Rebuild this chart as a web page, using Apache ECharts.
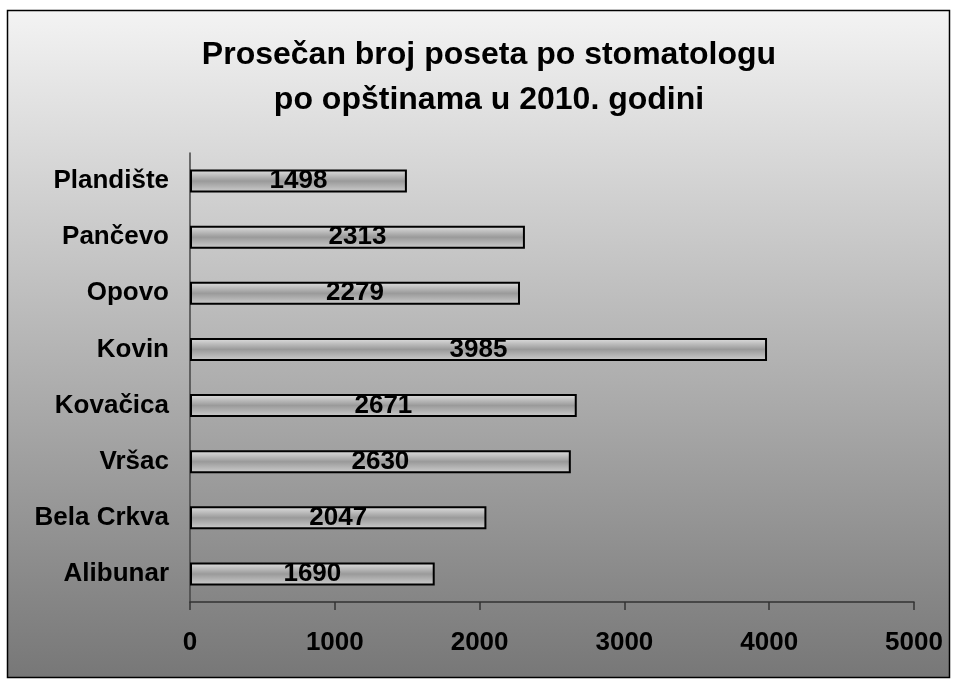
<!DOCTYPE html>
<html><head><meta charset="utf-8">
<script src="https://cdn.jsdelivr.net/npm/echarts@6/dist/echarts.min.js"></script>
<style>html,body{margin:0;padding:0;background:#fff}#c{width:957px;height:679px}</style>
</head><body><div id="c"></div>
<script>
const categories = ['Alibunar','Bela Crkva','Vršac','Kovačica','Kovin','Opovo','Pančevo','Plandište'];
const values = [1690, 2047, 2630, 2671, 3985, 2279, 2313, 1498];
const xTicks = [0, 1000, 2000, 3000, 4000, 5000];
const titleText = 'Prosečan broj poseta po stomatologu\npo opštinama u 2010. godini';

const chart = echarts.init(document.getElementById('c'));
const F = 'Liberation Sans, Arial, sans-serif';
chart.setOption({
  animation: false,
  graphic: [{
    type: 'rect', z: -10, silent: true,
    shape: { x: 7.5, y: 10.5, width: 942, height: 667 },
    style: {
      fill: new echarts.graphic.LinearGradient(0, 0, 0, 1, [
        { offset: 0, color: '#f3f3f3' },
        { offset: 1, color: '#777777' }
      ]),
      stroke: '#000', lineWidth: 1.5
    }
  }],
  title: {
    text: titleText, left: 484, top: 28, textAlign: 'center',
    textStyle: { fontFamily: F, fontSize: 32, fontWeight: 'bold', color: '#000', lineHeight: 45 }
  },
  grid: { left: 190, right: 43, top: 153, bottom: 77, containLabel: false },
  xAxis: {
    type: 'value', min: xTicks[0], max: xTicks[xTicks.length - 1], interval: 1000,
    axisLine: { show: true, lineStyle: { color: '#333', width: 1.5 } },
    axisTick: { show: true, inside: false, length: 8, lineStyle: { color: '#333', width: 1.5 } },
    splitLine: { show: false },
    axisLabel: { fontFamily: F, fontSize: 26, fontWeight: 'bold', color: '#000', margin: 28,
      formatter: v => String(v) }
  },
  yAxis: {
    type: 'category', data: categories,
    axisLine: { show: true, lineStyle: { color: '#444', width: 1.5 } },
    axisTick: { show: false },
    axisLabel: { fontFamily: F, fontSize: 26, fontWeight: 'bold', color: '#000', margin: 21 }
  },
  series: [{
    type: 'bar', data: values, barWidth: 23,
    itemStyle: {
      color: new echarts.graphic.LinearGradient(0, 0, 0, 1, [
        { offset: 0, color: '#e2e2e2' },
        { offset: 0.5, color: '#9a9a9a' },
        { offset: 1, color: '#cfcfcf' }
      ]),
      borderColor: '#000', borderWidth: 2
    },
    label: {
      show: true, position: 'inside', fontFamily: F, fontSize: 26, fontWeight: 'bold', color: '#000'
    }
  }]
});
</script></body></html>
